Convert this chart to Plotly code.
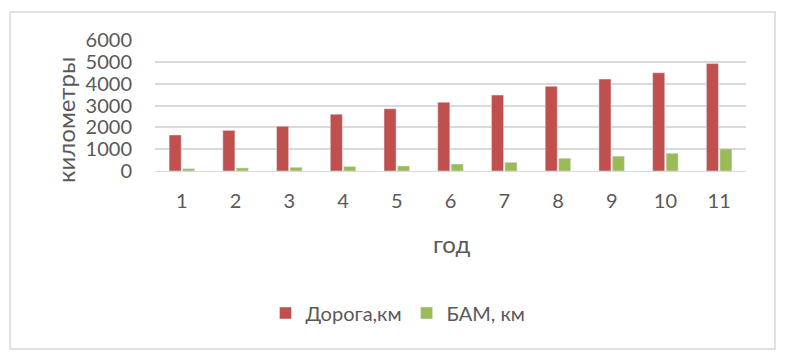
import plotly.graph_objects as go

years = [str(i) for i in range(1, 12)]
road_km = [1650, 1860, 2050, 2600, 2850, 3150, 3480, 3880, 4210, 4500, 4920]
bam_km = [110, 140, 170, 210, 230, 320, 400, 585, 680, 815, 1015]

FONT = "Lato"
GREY = "#595959"

W, H = 790, 364
L, R, T, B = 155, 44, 40, 193
pw = W - L - R
ph = H - T - B

def px_x(x):
    return (x - L) / pw

def px_y(y):
    return (H - B - y) / ph

fig = go.Figure()
fig.add_trace(go.Bar(x=years, y=road_km, name="Дорога,км", marker_color="#C0504D"))
fig.add_trace(go.Bar(x=years, y=bam_km, name="БАМ, км", marker_color="#9BBB59"))

fig.update_layout(
    width=W, height=H,
    margin=dict(l=L, r=R, t=T, b=B, pad=0),
    paper_bgcolor="white", plot_bgcolor="white",
    barmode="group", bargap=0.5, bargroupgap=0.1,
    font=dict(family=FONT, color=GREY, size=20),
    showlegend=True,
    legend=dict(orientation="h", x=px_x(398), xanchor="center", y=px_y(313), yanchor="middle",
                font=dict(size=20, color=GREY, family=FONT), itemwidth=30),
    xaxis=dict(showgrid=False, showline=True, linecolor="#d9d9d9", linewidth=1,
               ticks="outside", ticklen=12, tickcolor="rgba(0,0,0,0)",
               tickfont=dict(size=20, color=GREY)),
    yaxis=dict(range=[0, 6000], tickvals=[0, 1000, 2000, 3000, 4000, 5000, 6000],
               showgrid=True, gridcolor="#d9d9d9", gridwidth=1.5, zeroline=False,
               ticks="outside", ticklen=18, tickcolor="rgba(0,0,0,0)",
               tickfont=dict(size=20, color=GREY)),
    annotations=[
        dict(text="километры", xref="paper", yref="paper", x=px_x(65), y=px_y(120),
             textangle=-90, showarrow=False, xanchor="center", yanchor="middle",
             font=dict(size=24, color=GREY, family=FONT)),
        dict(text="год", xref="paper", yref="paper", x=px_x(451), y=px_y(243),
             showarrow=False, xanchor="center", yanchor="middle",
             font=dict(size=24, color=GREY, family=FONT)),
    ],
    shapes=[
        dict(type="rect", xref="paper", yref="paper", x0=px_x(10), x1=px_x(775),
             y0=px_y(349), y1=px_y(12), line=dict(color="#d9d9d9", width=1.5),
             fillcolor="rgba(0,0,0,0)", layer="below"),
    ],
)

fig.write_html("out.html")
